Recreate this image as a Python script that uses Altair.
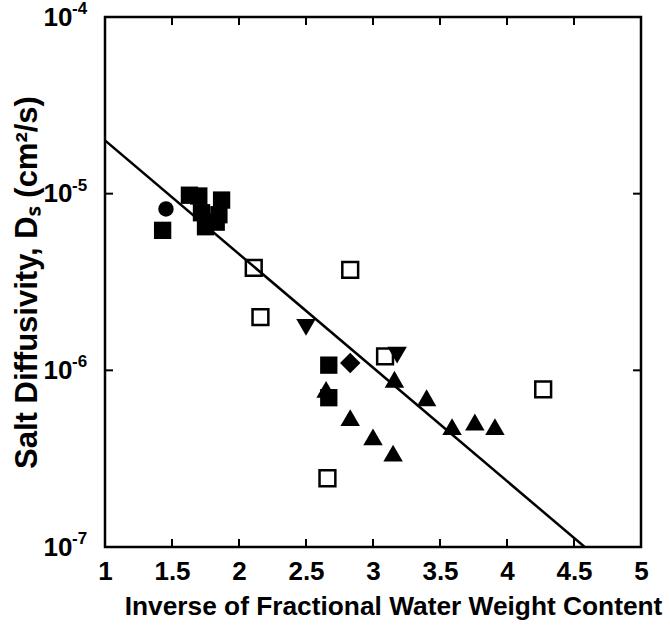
import altair as alt
import pandas as pd

# ---- measured data -------------------------------------------------------
# filled squares
sq_x = [1.43, 1.63, 1.70, 1.87, 1.72, 1.75, 1.83, 1.85, 2.67, 2.67]
sq_y = [6.2e-6, 9.8e-6, 9.7e-6, 9.2e-6, 7.8e-6, 6.5e-6, 6.9e-6, 7.6e-6, 1.07e-6, 7.0e-7]
# open squares
osq_x = [2.11, 2.16, 2.83, 3.09, 2.66, 4.27]
osq_y = [3.8e-6, 2.0e-6, 3.7e-6, 1.2e-6, 2.45e-7, 7.8e-7]
# filled upward triangles
tri_x = [2.65, 2.83, 3.00, 3.15, 3.16, 3.40, 3.59, 3.76, 3.91]
tri_y = [7.8e-7, 5.4e-7, 4.2e-7, 3.4e-7, 8.9e-7, 7.0e-7, 4.8e-7, 5.1e-7, 4.8e-7]
# filled downward triangles
trd_x = [2.50, 3.18]
trd_y = [1.75e-6, 1.22e-6]
# filled circle
cir_x = [1.455]
cir_y = [8.2e-6]
# filled diamond
dia_x = [2.83]
dia_y = [1.1e-6]
# fitted line
fit_x = [1.0, 4.58]
fit_y = [2.0e-5, 1.0e-7]

x_ticks = [1.5, 2.0, 2.5, 3.0, 3.5, 4.0, 4.5]
x_labels = [1, 1.5, 2, 2.5, 3, 3.5, 4, 4.5, 5]
y_ticks = [1e-6, 1e-5]
y_labels = [1e-7, 1e-6, 1e-5, 1e-4]
y_exp = ["-7", "-6", "-5", "-4"]

W, H = 536, 530
FONT = "Liberation Sans"
TICK = 8

x_scale = alt.Scale(domain=[1, 5], nice=False, zero=False)
y_scale = alt.Scale(type="log", domain=[1e-7, 1e-4], nice=False)

x_axis = alt.Axis(
    values=x_labels, format="~g", ticks=False, domain=False, grid=False,
    labelFont=FONT, labelFontSize=26, labelFontWeight="bold", labelColor="black",
    labelPadding=11, labelFlush=False,
    title="Inverse of Fractional Water Weight Content",
    titleFont=FONT, titleFontSize=26.3, titleFontWeight="bold", titleColor="black",
    titleX=288, titleY=67, titleBaseline="alphabetic", titleAnchor="middle",
)
y_axis = alt.Axis(
    values=y_labels, labelExpr="'10'", ticks=False, domain=False, grid=False,
    labelFont=FONT, labelFontSize=26, labelFontWeight="bold", labelColor="black",
    labelPadding=33, labelAlign="right", labelBaseline="middle",
    title="Salt Diffusivity, Dₛ (cm²/s)",
    titleFont=FONT, titleFontSize=31, titleFontWeight="bold", titleColor="black",
    titleX=-78, titleY=265, titleBaseline="middle", titleAnchor="middle",
)


def xq(field="x"):
    return alt.X(f"{field}:Q", scale=x_scale, axis=x_axis)


def yq(field="y"):
    return alt.Y(f"{field}:Q", scale=y_scale, axis=y_axis)


def pts(xs, ys):
    return alt.Chart(pd.DataFrame({"x": xs, "y": ys}))


fit = pts(fit_x, fit_y).mark_line(color="black", strokeWidth=2.5, clip=True).encode(x=xq(), y=yq())

filled_sq = pts(sq_x, sq_y).mark_point(shape="square", filled=True, color="black", opacity=1, size=300).encode(x=xq(), y=yq())
open_sq = pts(osq_x, osq_y).mark_point(shape="square", filled=False, color="black", strokeWidth=2.5, opacity=1, size=250).encode(x=xq(), y=yq())
tri_up = pts(tri_x, tri_y).mark_point(shape="triangle-up", filled=True, color="black", opacity=1, size=380).encode(x=xq(), y=yq())
tri_dn = pts(trd_x, trd_y).mark_point(shape="triangle-down", filled=True, color="black", opacity=1, size=380).encode(x=xq(), y=yq())
circle = pts(cir_x, cir_y).mark_point(shape="circle", filled=True, color="black", opacity=1, size=240).encode(x=xq(), y=yq())
diamond = pts(dia_x, dia_y).mark_point(shape="diamond", filled=True, color="black", opacity=1, size=420).encode(x=xq(), y=yq())

# inward tick marks on all four sides
xt = alt.Chart(pd.DataFrame({"v": x_ticks}))
yt = alt.Chart(pd.DataFrame({"v": y_ticks}))
tick_style = dict(color="black", strokeWidth=2)
bottom_ticks = xt.mark_rule(**tick_style).encode(x=xq("v"), y=alt.value(H), y2=alt.value(H - TICK))
top_ticks = xt.mark_rule(**tick_style).encode(x=xq("v"), y=alt.value(0), y2=alt.value(TICK))
left_ticks = yt.mark_rule(**tick_style).encode(y=yq("v"), x=alt.value(0), x2=alt.value(TICK))
right_ticks = yt.mark_rule(**tick_style).encode(y=yq("v"), x=alt.value(W), x2=alt.value(W - TICK))

# exponents of the y tick labels
exps = alt.Chart(pd.DataFrame({"v": y_labels, "e": y_exp})).mark_text(
    font=FONT, fontSize=17, fontWeight="bold", color="black",
    align="left", baseline="middle", dy=-8,
).encode(y=yq("v"), x=alt.value(-33), text="e:N")

chart = alt.layer(
    bottom_ticks, top_ticks, left_ticks, right_ticks,
    open_sq, filled_sq, tri_up, tri_dn, circle, diamond, fit, exps,
).properties(
    width=W, height=H,
    background="white",
    autosize=alt.AutoSizeParams(type="none"),
    padding={"left": 105, "top": 17, "right": 29, "bottom": 84},
).configure_view(
    stroke="black", strokeWidth=2.5,
)

chart.save("out.html", embed_options={"renderer": "svg", "actions": False})
